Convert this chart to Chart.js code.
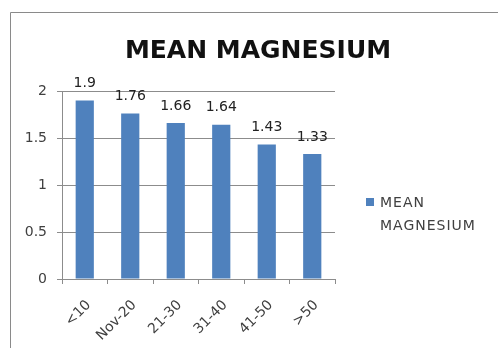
<!DOCTYPE html>
<html>
<head>
<meta charset="utf-8">
<style>
  html, body { margin: 0; padding: 0; background: #ffffff; }
  #wrap { width: 498px; height: 348px; }
</style>
<script src="https://cdn.jsdelivr.net/npm/chart.js"></script>
</head>
<body>
<div id="wrap"><canvas id="c" width="498" height="348"></canvas></div>
<script>
// Age groups and mean magnesium per group
const categories = ['<10', 'Nov-20', '21-30', '31-40', '41-50', '>50'];
const meanMagnesium = [1.9, 1.76, 1.66, 1.64, 1.43, 1.33];
const yTicks = [0, 0.5, 1, 1.5, 2];
const seriesName = ['MEAN', 'MAGNESIUM'];

const FONT = '"DejaVu Sans", "Open Sans", sans-serif';
const BAR = '#4F81BD';
const GRID = '#8c8c8c';
const TEXT = '#404040';

// Outer frame of the chart object
const framePlugin = {
  id: 'frame',
  beforeDraw(chart) {
    const ctx = chart.ctx;
    ctx.save();
    ctx.fillStyle = '#ffffff';
    ctx.fillRect(0, 0, chart.width, chart.height);
    ctx.strokeStyle = '#8a8a8a';
    ctx.lineWidth = 1;
    ctx.beginPath();
    ctx.moveTo(10.5, chart.height);
    ctx.lineTo(10.5, 12.5);
    ctx.lineTo(chart.width, 12.5);
    ctx.stroke();
    ctx.restore();
  }
};

// Value labels above each bar
const valueLabels = {
  id: 'valueLabels',
  afterDatasetsDraw(chart) {
    const ctx = chart.ctx;
    const meta = chart.getDatasetMeta(0);
    ctx.save();
    ctx.font = '14px ' + FONT;
    ctx.fillStyle = '#222222';
    ctx.textAlign = 'center';
    ctx.textBaseline = 'middle';
    meta.data.forEach((bar, i) => {
      ctx.fillText(String(chart.data.datasets[0].data[i]), bar.x, bar.y - 17);
    });
    ctx.restore();
  }
};

// Legend drawn at the right, with the series name on two lines
const sideLegend = {
  id: 'sideLegend',
  afterDraw(chart) {
    const ctx = chart.ctx;
    ctx.save();
    ctx.fillStyle = chart.data.datasets[0].backgroundColor;
    ctx.fillRect(366, 198, 8, 8);
    ctx.font = '14px ' + FONT;
    ctx.letterSpacing = '1px';
    ctx.fillStyle = TEXT;
    ctx.textAlign = 'left';
    ctx.textBaseline = 'middle';
    seriesName.forEach((line, i) => {
      ctx.fillText(line, 380, 203 + i * 23);
    });
    ctx.restore();
  }
};

new Chart(document.getElementById('c'), {
  type: 'bar',
  data: {
    labels: categories,
    datasets: [{
      label: seriesName.join(' '),
      data: meanMagnesium,
      backgroundColor: BAR,
      borderWidth: 0,
      categoryPercentage: 1.0,
      barPercentage: 0.4,
      yAxisID: 'y'
    }]
  },
  options: {
    responsive: false,
    animation: false,
    devicePixelRatio: 1,
    layout: { padding: { left: 18, right: 0, top: 0, bottom: 0 } },
    plugins: {
      legend: { display: false },
      tooltip: { enabled: false },
      title: {
        display: true,
        text: 'MEAN MAGNESIUM',
        color: '#111111',
        font: { family: FONT, size: 25, weight: 'bold' },
        padding: { top: 36, bottom: 25 }
      }
    },
    scales: {
      x: {
        offset: true,
        grid: {
          offset: true,
          drawOnChartArea: false,
          drawTicks: true,
          tickLength: 5,
          color: GRID
        },
        border: { display: true, color: GRID },
        ticks: {
          color: TEXT,
          font: { family: FONT, size: 14 },
          minRotation: 45,
          maxRotation: 45,
          autoSkip: false,
          padding: 13,
          labelOffset: 4
        },
        afterFit(scale) { scale.height = 69; }
      },
      y: {
        min: 0,
        max: 2,
        afterBuildTicks(scale) { scale.ticks = yTicks.map(v => ({ value: v })); },
        grid: { color: GRID, tickLength: 5, drawTicks: true },
        border: { display: true, color: GRID },
        ticks: {
          color: TEXT,
          font: { family: FONT, size: 14 },
          padding: 10,
          callback: v => String(v)
        },
        afterFit(scale) { scale.width = 44; }
      },
      // empty right-hand strip that leaves room for the legend
      side: {
        type: 'linear',
        position: 'right',
        min: 0,
        max: 2,
        grid: { display: false, drawTicks: false },
        border: { display: false },
        ticks: { display: false },
        afterFit(scale) { scale.width = 163; }
      }
    }
  },
  plugins: [framePlugin, valueLabels, sideLegend]
});
</script>
</body>
</html>
